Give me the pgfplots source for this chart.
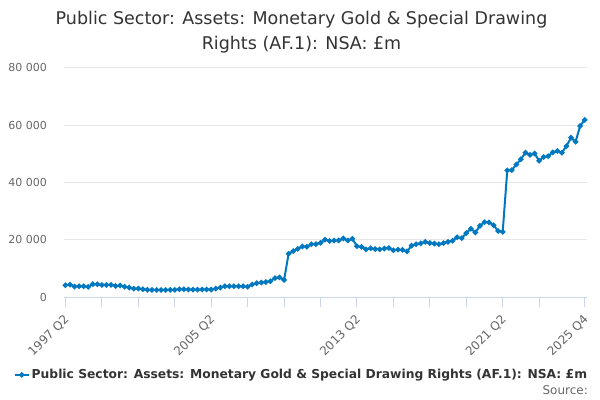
\documentclass[border=0pt]{standalone}
\usepackage{pgfplots}
\pgfplotsset{compat=1.18}
\usepackage{pgfplotstable}
\usepackage{fontspec}
\setmainfont{DejaVu Sans}
\definecolor{series}{RGB}{0,120,192}
\definecolor{gridc}{HTML}{E6E6E6}
\definecolor{axisc}{HTML}{CCD6EB}
\definecolor{labc}{HTML}{666666}
\definecolor{titc}{HTML}{333333}
\pgfplotstableread{
i v
0 4200
1 4400
2 3750
3 3850
4 3850
5 3650
6 4550
7 4550
8 4300
9 4300
10 4300
11 3950
12 4100
13 3650
14 3400
15 3050
16 3050
17 2800
18 2600
19 2550
20 2550
21 2550
22 2550
23 2600
24 2600
25 2800
26 2800
27 2700
28 2650
29 2650
30 2700
31 2750
32 2700
33 3050
34 3400
35 3850
36 3850
37 3850
38 3850
39 3850
40 3650
41 4450
42 4900
43 5150
44 5300
45 5600
46 6700
47 6950
48 6050
49 15200
50 16100
51 16850
52 17700
53 17600
54 18500
55 18500
56 19000
57 20100
58 19600
59 19800
60 19800
61 20500
62 19800
63 20400
64 17800
65 17600
66 16700
67 17100
68 16800
69 16700
70 17000
71 17200
72 16400
73 16600
74 16500
75 16000
76 18000
77 18500
78 18800
79 19300
80 18900
81 18700
82 18500
83 18900
84 19300
85 19700
86 20900
87 20600
88 22400
89 23900
90 22600
91 24900
92 26200
93 26100
94 25100
95 23100
96 22800
97 44200
98 44300
99 46300
100 48100
101 50400
102 49600
103 50100
104 47600
105 48900
106 49200
107 50500
108 51000
109 50400
110 52700
111 55600
112 54200
113 59700
114 61800
}\datatable
\begin{document}
\begin{tikzpicture}
\useasboundingbox (0,0) rectangle (600bp,400bp);
\begin{axis}[
  at={(64.3bp,102.7bp)}, anchor=south west,
  scale only axis, width=522.2bp, height=229.6bp,
  xmin=-0.25, xmax=114.4, ymin=0, ymax=80000,
  axis x line*=bottom, axis y line*=left,
  y axis line style={draw=none},
  x axis line style={draw=axisc, line width=1bp, -},
  ytick={0,20000,40000,60000,80000},
  yticklabels={0,20 000,40 000,60 000,80 000},
  scaled y ticks=false,
  ytick style={draw=none},
  ymajorgrids, grid style={draw=gridc, line width=1bp},
  xtick={0,32,64,96,114},
  xticklabels={1997 Q2,2005 Q2,2013 Q2,2021 Q2,2025 Q4},
  minor xtick={8,16,24,40,48,56,72,80,88,104},
  tick align=outside, major tick length=10bp, minor tick length=10bp,
  xtick style={draw=axisc, line width=1bp},
  minor x tick style={draw=axisc, line width=1bp},
  yticklabel style={font=\fontsize{11bp}{13bp}\selectfont, text=labc, anchor=east, xshift=-4bp},
  xticklabel style={font=\fontsize{12bp}{14bp}\selectfont, text=labc, rotate=45, anchor=north east, inner sep=1bp, xshift=-5bp, yshift=-2bp},
  legend style={at={(0.454,-0.338)}, anchor=center, draw=none, fill=none,
    font=\bfseries\fontsize{12.3bp}{14bp}\selectfont, text=titc, inner sep=0pt},
  legend image code/.code={\draw[mark repeat=2, mark phase=2] plot coordinates {(0bp,0bp) (7bp,0bp) (14bp,0bp)};},
  clip=false,
]
\addplot[color=series, line width=2bp, mark=*, mark size=1.6bp, mark options={fill=series, draw=series}] table[x=i, y=v] {\datatable};
\addlegendentry{Public Sector: Assets: Monetary Gold \& Special Drawing Rights (AF.1): NSA: £m}
\end{axis}
\node[anchor=base, text=titc, font=\fontsize{17.5bp}{21bp}\selectfont] at (301.5bp,375bp) {Public Sector: Assets: Monetary Gold \& Special Drawing};
\node[anchor=base, text=titc, font=\fontsize{17.5bp}{21bp}\selectfont] at (301.5bp,350.5bp) {Rights (AF.1): NSA: £m};
\node[anchor=base east, text=labc, font=\fontsize{12bp}{14bp}\selectfont, inner sep=0pt] at (588bp,6bp) {Source:};
\end{tikzpicture}
\end{document}
